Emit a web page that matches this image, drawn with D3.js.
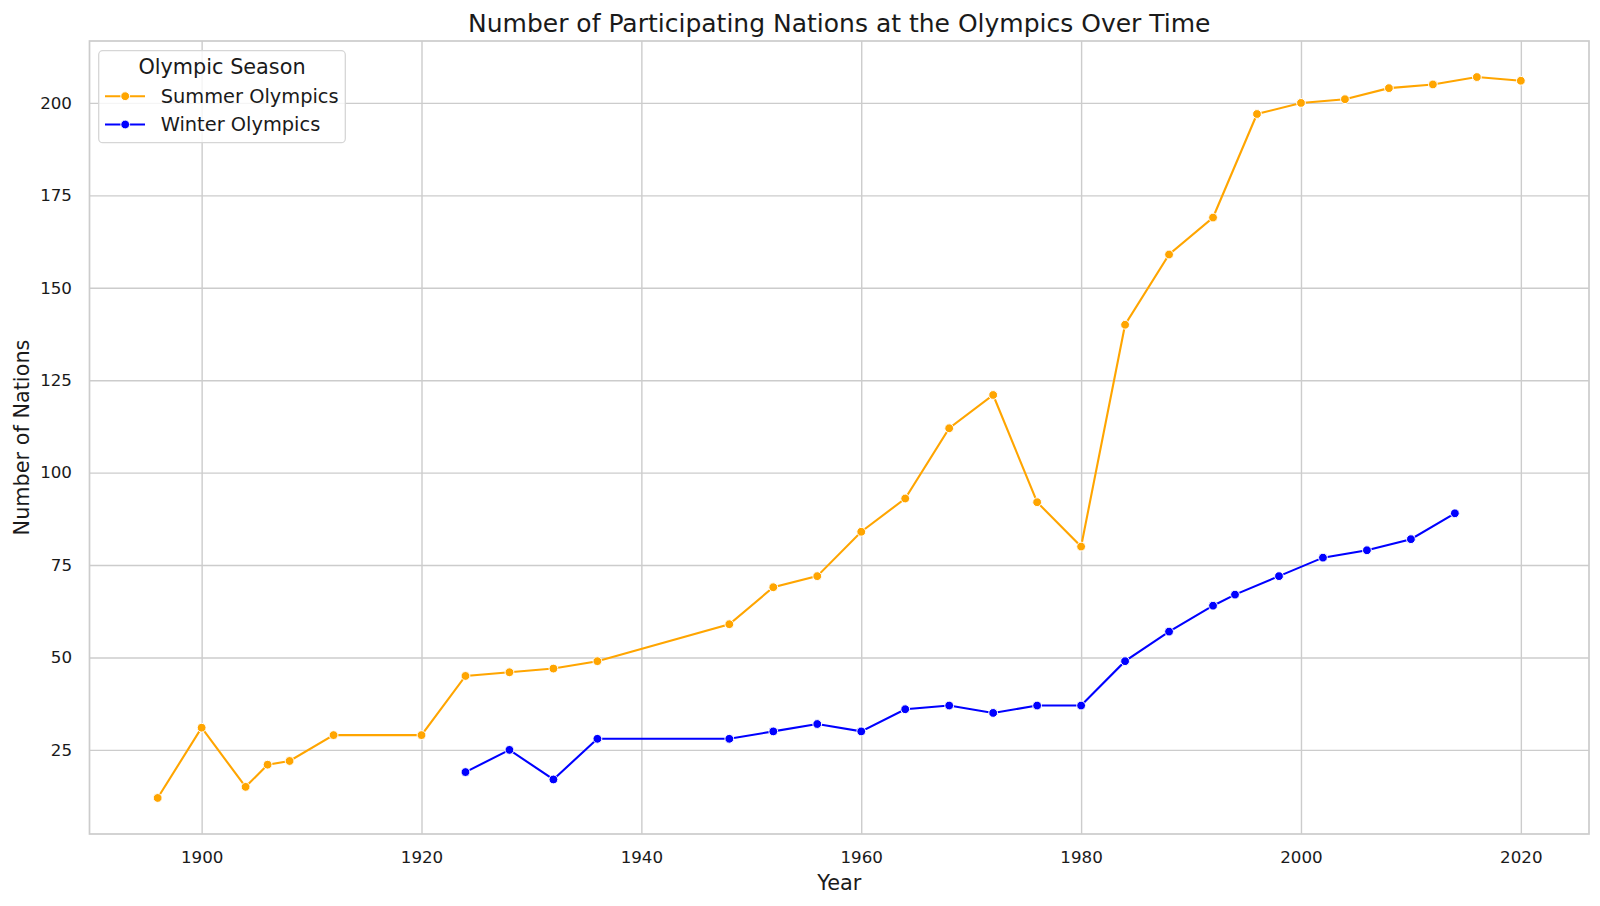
<!DOCTYPE html>
<html>
<head>
<meta charset="utf-8">
<script src="https://cdnjs.cloudflare.com/ajax/libs/d3/7.8.5/d3.min.js"></script>
<style>
	body { margin:0; background:#fff; }
	svg text { font-family:'DejaVu Sans', sans-serif; fill:#1a1a1a; }
</style>
</head>
<body>
<svg id="chart" width="1600" height="906"></svg>
<script>

//------------------------------------------------------------------
// data
//------------------------------------------------------------------
var summerYears  = [1896,1900,1904,1906,1908,1912,1920,1924,1928,1932,1936,1948,1952,1956,1960,1964,1968,1972,1976,1980,1984,1988,1992,1996,2000,2004,2008,2012,2016,2020];
var summerNations= [12,31,15,21,22,29,29,45,46,47,49,59,69,72,84,93,112,121,92,80,140,159,169,197,200,201,204,205,207,206];

var winterYears  = [1924,1928,1932,1936,1948,1952,1956,1960,1964,1968,1972,1976,1980,1984,1988,1992,1994,1998,2002,2006,2010,2014];
var winterNations= [19,25,17,28,28,30,32,30,36,37,35,37,37,49,57,64,67,72,77,79,82,89];

var xTickVals = [1900,1920,1940,1960,1980,2000,2020];
var yTickVals = [25,50,75,100,125,150,175,200];

var seasons = ['Summer Olympics','Winter Olympics'];
var colors  = ['#ffa500','#0000ff'];


//------------------------------------------------------------------
//
//------------------------------------------------------------------
var m = { l:89.5, r:1589, t:41, b:834 },
		svg = d3.select('#chart');

var x = d3.scaleLinear().domain([1889.8, 2026.2]).range([m.l, m.r]),
		y = d3.scaleLinear().domain([2.25, 216.75]).range([m.b, m.t]);

var series = [
	{ name:seasons[0], color:colors[0], pts:summerYears.map((d,i)=>({ yr:d, v:summerNations[i] })) },
	{ name:seasons[1], color:colors[1], pts:winterYears.map((d,i)=>({ yr:d, v:winterNations[i] })) },
];

// grid
svg.append('g')
	.attr('transform','translate(0,'+m.b+')')
	.call(d3.axisBottom(x).tickValues(xTickVals).tickFormat(d3.format('d')).tickSize(-(m.b-m.t)).tickPadding(17))
	.call(g=>{
		g.select('.domain').remove();
		g.selectAll('.tick line').attr('stroke','#cccccc').attr('stroke-width',1.4);
		g.selectAll('.tick text').attr('font-size',16.7).attr('fill','#1a1a1a');
	});

svg.append('g')
	.attr('transform','translate('+m.l+',0)')
	.call(d3.axisLeft(y).tickValues(yTickVals).tickSize(-(m.r-m.l)).tickPadding(17.5))
	.call(g=>{
		g.select('.domain').remove();
		g.selectAll('.tick line').attr('stroke','#cccccc').attr('stroke-width',1.4);
		g.selectAll('.tick text').attr('font-size',16.7).attr('fill','#1a1a1a');
	});

// frame
svg.append('rect')
	.attr('x',m.l).attr('y',m.t).attr('width',m.r-m.l).attr('height',m.b-m.t)
	.attr('fill','none').attr('stroke','#cccccc').attr('stroke-width',1.7);

// lines + markers
var line = d3.line().x(d=>x(d.yr)).y(d=>y(d.v));

series.forEach(s=>{
	svg.append('path')
		.datum(s.pts)
		.attr('d',line)
		.attr('fill','none')
		.attr('stroke',s.color)
		.attr('stroke-width',2.1);

	svg.append('g').selectAll('circle').data(s.pts)
		.enter()
			.append('circle')
				.attr('cx',d=>x(d.yr))
				.attr('cy',d=>y(d.v))
				.attr('r',4.4)
				.attr('fill',s.color)
				.attr('stroke','#fff')
				.attr('stroke-width',1);
});

// titles
svg.append('text')
	.attr('x',(m.l+m.r)/2).attr('y',31.5)
	.attr('text-anchor','middle').attr('font-size',25)
	.text('Number of Participating Nations at the Olympics Over Time');

svg.append('text')
	.attr('x',(m.l+m.r)/2).attr('y',890)
	.attr('text-anchor','middle').attr('font-size',20.8)
	.text('Year');

svg.append('text')
	.attr('transform','translate(29,'+((m.t+m.b)/2)+') rotate(-90)')
	.attr('text-anchor','middle').attr('font-size',20.8)
	.text('Number of Nations');

// legend
var lg = svg.append('g').attr('transform','translate(98.7,50.7)');

lg.append('rect')
	.attr('width',246.6).attr('height',92).attr('rx',4)
	.attr('fill','#fff').attr('fill-opacity',0.8)
	.attr('stroke','#d6d6d6').attr('stroke-width',1.3);

lg.append('text')
	.attr('x',123.3).attr('y',23.5)
	.attr('text-anchor','middle').attr('font-size',20.8)
	.text('Olympic Season');

series.forEach((s,i)=>{
	var yy = 45.5 + i*28.3;
	lg.append('line')
		.attr('x1',6.3).attr('x2',46.3).attr('y1',yy).attr('y2',yy)
		.attr('stroke',s.color).attr('stroke-width',2.1);
	lg.append('circle')
		.attr('cx',26.5).attr('cy',yy).attr('r',4.4)
		.attr('fill',s.color).attr('stroke','#fff').attr('stroke-width',1);
	lg.append('text')
		.attr('x',62).attr('y',yy+6.5)
		.attr('font-size',19.4)
		.text(s.name);
});

</script>
</body>
</html>
